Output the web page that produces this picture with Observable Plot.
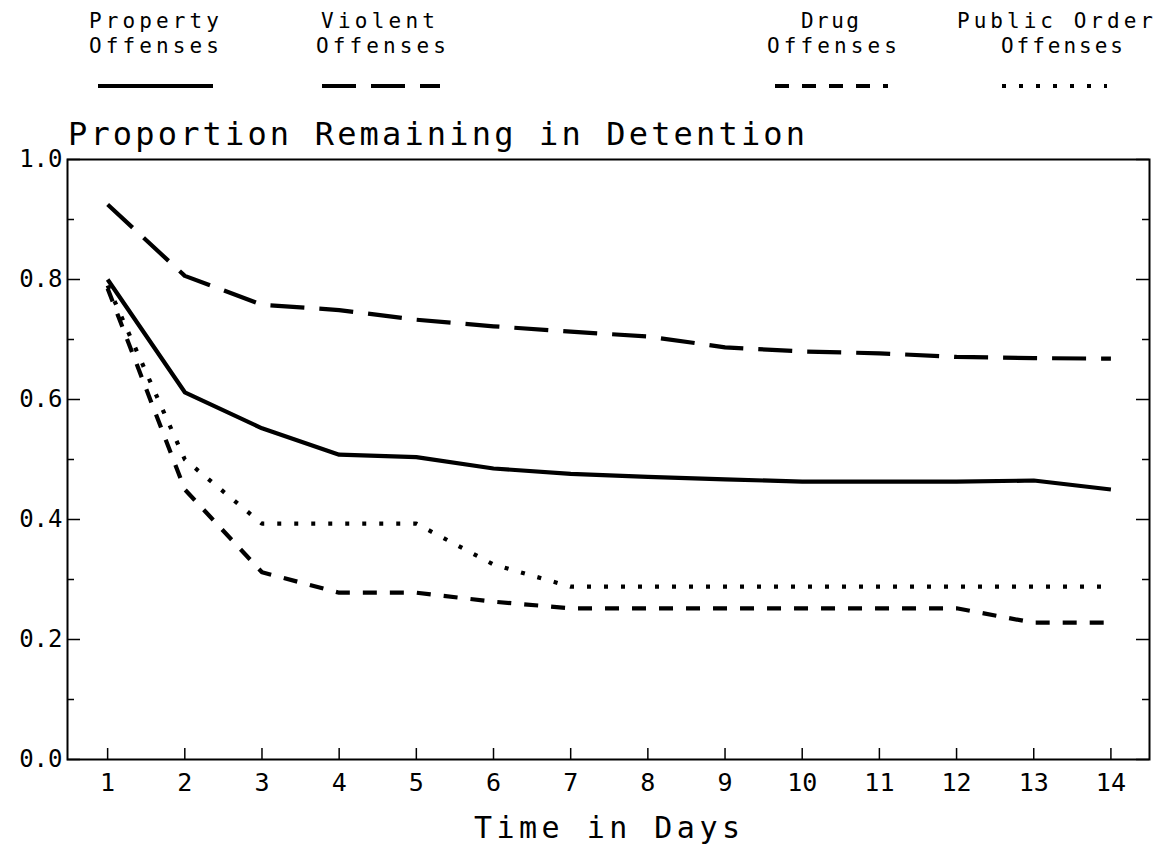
<!DOCTYPE html>
<html>
<head>
<meta charset="utf-8">
<script src="https://cdn.jsdelivr.net/npm/d3@7"></script>
<script src="https://cdn.jsdelivr.net/npm/@observablehq/plot@0.6"></script>
<style>
  html, body { margin: 0; padding: 0; background: #fff; }
  #chart svg { display: block; }
</style>
</head>
<body>
<div id="chart"></div>
<script>
// ---- data ----
const days = [1, 2, 3, 4, 5, 6, 7, 8, 9, 10, 11, 12, 13, 14];
const propertyOffenses = [0.800, 0.612, 0.552, 0.508, 0.504, 0.485, 0.476, 0.471, 0.467, 0.463, 0.463, 0.463, 0.465, 0.450];
const violentOffenses = [0.925, 0.806, 0.758, 0.749, 0.733, 0.722, 0.713, 0.705, 0.687, 0.680, 0.677, 0.671, 0.669, 0.668];
const drugOffenses = [0.785, 0.450, 0.312, 0.278, 0.278, 0.263, 0.252, 0.252, 0.252, 0.252, 0.252, 0.252, 0.228, 0.228];
const publicOrderOffenses = [0.790, 0.500, 0.393, 0.393, 0.393, 0.325, 0.288, 0.288, 0.288, 0.288, 0.288, 0.288, 0.288, 0.288];
const seriesLabels = [["Property", "Offenses"], ["Violent", "Offenses"], ["Drug", "Offenses"], ["Public Order", "Offenses"]];
const xTicks = [1, 2, 3, 4, 5, 6, 7, 8, 9, 10, 11, 12, 13, 14];
const yTicks = [0.0, 0.2, 0.4, 0.6, 0.8, 1.0];
const yMinorTicks = [0.1, 0.3, 0.5, 0.7, 0.9];
const titleText = "Proportion Remaining in Detention";
const xLabelText = "Time in Days";

// ---- layout / styles ----
const W = 1156, H = 845;
const mL = 67, mR = 7, mT = 159, mB = 86;
const fw = W - mL - mR, fh = H - mT - mB;
const FONT = "DejaVu Sans Mono";
const dashes = ["none", "34,15", "14,13", "4,13"];
const seriesValues = [propertyOffenses, violentOffenses, drugOffenses, publicOrderOffenses];

const lineMarks = seriesValues.map((vals, i) =>
  Plot.line(days.map((d, j) => ({day: d, value: vals[j]})), {
    x: "day", y: "value",
    stroke: "black", strokeWidth: 4.2,
    strokeDasharray: dashes[i] === "none" ? undefined : dashes[i],
    strokeLinejoin: "round", strokeLinecap: "butt"
  })
);

const plot = Plot.plot({
  width: W, height: H,
  marginLeft: mL, marginRight: mR, marginTop: mT, marginBottom: mB,
  style: {fontFamily: FONT, background: "white", color: "black"},
  x: {domain: [0.48, 14.5], axis: null},
  y: {domain: [0, 1], axis: null},
  marks: [
    Plot.frame({stroke: "black", strokeWidth: 2}),
    Plot.tickX(xTicks, {x: d => d, insetTop: fh - 11, stroke: "black", strokeWidth: 1.5}),
    Plot.tickY(yTicks, {y: d => d, insetRight: fw - 13, stroke: "black", strokeWidth: 1.5}),
    Plot.tickY(yMinorTicks, {y: d => d, insetRight: fw - 7, stroke: "black", strokeWidth: 1.5}),
    Plot.tickY(yTicks, {y: d => d, insetLeft: fw - 13, stroke: "black", strokeWidth: 1.5}),
    Plot.tickY(yMinorTicks, {y: d => d, insetLeft: fw - 7, stroke: "black", strokeWidth: 1.5}),
    Plot.text(xTicks, {x: d => d, frameAnchor: "bottom", dy: 23, text: d => String(d),
      fontSize: 25, lineAnchor: "middle", fill: "black", ariaLabel: "x-tick-labels"}),
    Plot.text(yTicks, {y: d => d, frameAnchor: "left", dx: -5, textAnchor: "end",
      text: d => d.toFixed(1), fontSize: 24, lineAnchor: "middle", fill: "black", ariaLabel: "y-tick-labels"}),
    ...lineMarks
  ]
});

document.getElementById("chart").appendChild(plot);
const svg = d3.select(plot);
svg.selectAll("g[aria-label='y-tick-labels'] text").style("letter-spacing", "2.3px");

function addText(str, x, y, size, anchor, length) {
  const t = svg.append("text")
    .attr("x", x).attr("y", y)
    .attr("font-family", FONT).attr("font-size", size)
    .attr("text-anchor", anchor).attr("fill", "black")
    .text(str);
  if (length) t.attr("textLength", length).attr("lengthAdjust", "spacing");
  return t;
}

// title and x-axis label
addText(titleText, 68, 145, 32, "start", 737);
addText(xLabelText, 607, 838, 30, "middle", 266);

// legend
const legendText = [
  {c1: 154, l1: 130, c2: 154, l2: 130},
  {c1: 378, l1: 114, c2: 381, l2: 130},
  {c1: 830, l1: 58, c2: 832, l2: 130},
  {c1: 1055, l1: 196, c2: 1062, l2: 122}
];
const legendLines = [[98, 213], [322, 440], [775, 888], [1002, 1107]];
seriesLabels.forEach((lab, i) => {
  const p = legendText[i];
  addText(lab[0], p.c1, 28, 21, "middle", p.l1);
  addText(lab[1], p.c2, 53, 21, "middle", p.l2);
  const ln = svg.append("line")
    .attr("x1", legendLines[i][0]).attr("x2", legendLines[i][1])
    .attr("y1", 86).attr("y2", 86)
    .attr("stroke", "black").attr("stroke-width", 4.2);
  if (dashes[i] !== "none") ln.attr("stroke-dasharray", dashes[i]);
});
</script>
</body>
</html>
